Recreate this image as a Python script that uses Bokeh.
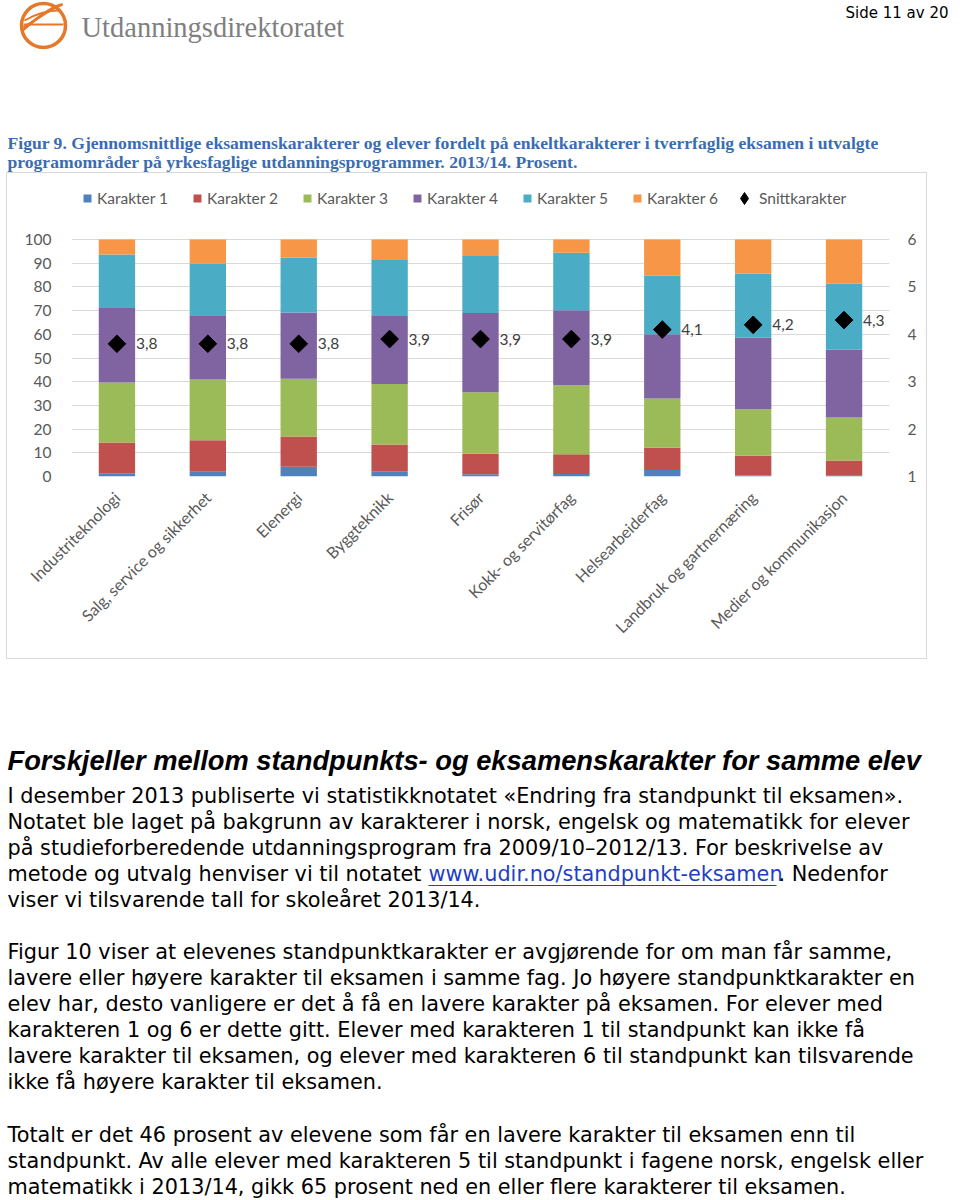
import math
from bokeh.plotting import figure
from bokeh.models import (Range1d, FactorRange, LinearAxis, Legend, LegendItem,
                          ColumnDataSource, Spacer)
from bokeh.layouts import column, row
from bokeh.core.properties import value
from bokeh.embed import file_html
from bokeh.resources import INLINE

# ---------------- data ----------------
categories = ["Industriteknologi", "Salg, service og sikkerhet", "Elenergi",
              "Byggteknikk", "Frisør", "Kokk- og servitørfag",
              "Helsearbeiderfag", "Landbruk og gartnernæring",
              "Medier og kommunikasjon"]
karakter1 = [1.4, 2.0, 4.1, 2.2, 1.0, 1.1, 2.7, 0.4, 0.3]
karakter2 = [12.9, 13.3, 12.8, 11.3, 8.6, 8.3, 9.4, 8.4, 6.4]
karakter3 = [25.4, 25.6, 24.3, 25.5, 25.9, 29.1, 20.8, 19.6, 18.2]
karakter4 = [31.4, 27.1, 28.0, 28.7, 33.5, 31.7, 27.1, 30.2, 28.6]
karakter5 = [22.6, 21.9, 23.1, 23.6, 24.4, 24.2, 24.7, 26.9, 27.8]
karakter6 = [6.3, 10.1, 7.7, 8.7, 6.6, 5.6, 15.3, 14.5, 18.7]
snitt = [3.8, 3.8, 3.8, 3.9, 3.9, 3.9, 4.1, 4.2, 4.3]
snitt_labels = ["3,8", "3,8", "3,8", "3,9", "3,9", "3,9", "4,1", "4,2", "4,3"]
series_names = ["Karakter 1", "Karakter 2", "Karakter 3", "Karakter 4",
                "Karakter 5", "Karakter 6"]
snitt_name = "Snittkarakter"
left_ticks = [0, 10, 20, 30, 40, 50, 60, 70, 80, 90, 100]
right_ticks = [1, 2, 3, 4, 5, 6]

colors = ["#4f81bd", "#c0504d", "#9bbb59", "#8064a2", "#4bacc6", "#f79646"]
GRAY = "#595959"
CHART_FONT = "Lato"

# ---------------- header ----------------
hdr = figure(width=960, height=172, x_range=Range1d(0, 960), y_range=Range1d(172, 0),
             output_backend="svg", toolbar_location=None, min_border=0,
             x_axis_location=None, y_axis_location=None, outline_line_color=None)
hdr.grid.visible = False
ORANGE = "#e4782b"
hdr.circle(x=[43], y=[25], radius=22, fill_color=None, line_color=ORANGE, line_width=3.5)
hdr.bezier(x0=[22, 23], y0=[30, 27], x1=[62, 62], y1=[4, 4],
           cx0=[40, 40], cy0=[14, 16], cx1=[55, 54], cy1=[5, 6],
           line_color=ORANGE, line_width=2.5)
hdr.segment(x0=[23], y0=[24], x1=[63], y1=[24], line_color=ORANGE, line_width=2)
hdr.bezier(x0=[24], y0=[20], x1=[58], y1=[10], cx0=[38], cy0=[12], cx1=[50], cy1=[10],
           line_color=ORANGE, line_width=2)
hdr.text(x=[81], y=[27], text=["Utdanningsdirektoratet"], text_font=value("Liberation Serif"),
         text_font_size="28.5px", text_color="#7f7f7f", text_baseline="middle")
hdr.text(x=[948], y=[12], text=["Side 11 av 20"], text_font=value("DejaVu Sans"),
         text_font_size="15px", text_color="#000000", text_align="right",
         text_baseline="middle")
CAP = "#3a6db0"
hdr.text(x=[7, 7], y=[142, 161],
         text=["Figur 9. Gjennomsnittlige eksamenskarakterer og elever fordelt på enkeltkarakterer i tverrfaglig eksamen i utvalgte",
               "programområder på yrkesfaglige utdanningsprogrammer. 2013/14. Prosent."],
         text_font=value("Liberation Serif"), text_font_size="17.6px",
         text_font_style="bold", text_color=CAP, text_baseline="middle")

# ---------------- chart ----------------
# frame spans 293 px; 100 % corresponds to 237 px -> extra room above for legend
Y_TOP = 100 * 293 / 237
src = ColumnDataSource(dict(cat=categories, k1=karakter1, k2=karakter2, k3=karakter3,
                            k4=karakter4, k5=karakter5, k6=karakter6,
                            snitt=snitt, lab=snitt_labels))
p = figure(width=921, height=487, x_range=FactorRange(factors=categories),
           y_range=Range1d(0, Y_TOP), output_backend="svg", toolbar_location=None,
           min_border_left=64, min_border_right=39, min_border_top=10,
           min_border_bottom=184, outline_line_color=None)
p.styles = {"border": "1px solid #d9d9d9"}
p.extra_y_ranges = {"g": Range1d(1, 1 + 5 * Y_TOP / 100)}

bars = p.vbar_stack(["k1", "k2", "k3", "k4", "k5", "k6"], x="cat", width=0.4,
                    color=colors, line_color=None, source=src)
dia = p.scatter(x="cat", y="snitt", y_range_name="g", marker="square", angle=math.pi / 4,
                size=12.5, fill_color="black", line_color="black", source=src)
# hidden twin, only used to draw a diamond in the legend
dia_leg = p.scatter(x="cat", y="snitt", y_range_name="g", marker="diamond", size=12,
                    fill_color="black", line_color="black", source=src, visible=False)
p.text(x="cat", y="snitt", text="lab", y_range_name="g", x_offset=19, source=src,
       text_font=value(CHART_FONT), text_font_size="15.5px", text_color="#404040",
       text_baseline="middle")

p.xgrid.visible = False
p.ygrid.ticker = left_ticks
p.ygrid.grid_line_color = "#d9d9d9"

for ax in (p.xaxis[0], p.yaxis[0]):
    ax.axis_line_color = None
    ax.major_tick_line_color = None
    ax.minor_tick_line_color = None
    ax.major_label_text_color = GRAY
    ax.major_label_text_font = CHART_FONT
    ax.major_label_text_font_size = "15.5px"
p.yaxis[0].ticker = left_ticks
p.yaxis[0].major_label_standoff = 14
p.xaxis[0].major_label_orientation = math.pi / 4
p.xaxis[0].major_label_standoff = 12
p.xaxis[0].major_label_text_font_size = "16px"

rax = LinearAxis(y_range_name="g", ticker=right_ticks, axis_line_color=None,
                 major_tick_line_color=None, minor_tick_line_color=None,
                 major_label_text_color=GRAY, major_label_text_font=CHART_FONT,
                 major_label_text_font_size="15.5px", major_label_standoff=12)
p.add_layout(rax, "right")

leg_style = dict(orientation="horizontal", border_line_color=None,
                 background_fill_alpha=0, label_text_font=CHART_FONT,
                 label_text_font_size="15.5px", label_text_color=GRAY,
                 padding=4, margin=0, click_policy="none")
items = [LegendItem(label=n, renderers=[r]) for n, r in zip(series_names, bars)]
leg = Legend(items=items, location=(11, 269), glyph_width=10, glyph_height=10,
             label_standoff=5, spacing=24, **leg_style)
p.add_layout(leg)
leg2 = Legend(items=[LegendItem(label=snitt_name, renderers=[dia_leg])], location=(658, 263),
              glyph_width=30, glyph_height=30, label_standoff=-4, **leg_style)
p.add_layout(leg2)

chart_row = row(Spacer(width=6, height=489), p)

# ---------------- body text ----------------
tx = figure(width=960, height=539, x_range=Range1d(0, 960), y_range=Range1d(1200, 661),
            output_backend="svg", toolbar_location=None, min_border=0,
            x_axis_location=None, y_axis_location=None, outline_line_color=None)
tx.grid.visible = False
tx.text(x=[7], y=[760], text=["Forskjeller mellom standpunkts- og eksamenskarakter for samme elev"],
        text_font=value("Liberation Sans"), text_font_size="27.3px",
        text_font_style="bold italic", text_color="#000000", text_baseline="middle")

BODY_FONT = value("DejaVu Sans")
BODY_SIZE = "20.8px"
lines = [
    (795, "I desember 2013 publiserte vi statistikknotatet «Endring fra standpunkt til eksamen»."),
    (821, "Notatet ble laget på bakgrunn av karakterer i norsk, engelsk og matematikk for elever"),
    (847, "på studieforberedende utdanningsprogram fra 2009/10–2012/13. For beskrivelse av"),
    (873, "metode og utvalg henviser vi til notatet"),
    (899, "viser vi tilsvarende tall for skoleåret 2013/14."),
    (951, "Figur 10 viser at elevenes standpunktkarakter er avgjørende for om man får samme,"),
    (977, "lavere eller høyere karakter til eksamen i samme fag. Jo høyere standpunktkarakter en"),
    (1003, "elev har, desto vanligere er det å få en lavere karakter på eksamen. For elever med"),
    (1029, "karakteren 1 og 6 er dette gitt. Elever med karakteren 1 til standpunkt kan ikke få"),
    (1055, "lavere karakter til eksamen, og elever med karakteren 6 til standpunkt kan tilsvarende"),
    (1081, "ikke få høyere karakter til eksamen."),
    (1134, "Totalt er det 46 prosent av elevene som får en lavere karakter til eksamen enn til"),
    (1160, "standpunkt. Av alle elever med karakteren 5 til standpunkt i fagene norsk, engelsk eller"),
    (1186, "matematikk i 2013/14, gikk 65 prosent ned en eller flere karakterer til eksamen."),
]
tx.text(x=[7] * len(lines), y=[l[0] for l in lines], text=[l[1] for l in lines],
        text_font=BODY_FONT, text_font_size=BODY_SIZE, text_color="#000000",
        text_baseline="middle")
LINK = "#1f3fc4"
tx.text(x=[428], y=[873], text=["www.udir.no/standpunkt-eksamen"], text_font=BODY_FONT,
        text_font_size=BODY_SIZE, text_color=LINK, text_baseline="middle")
tx.segment(x0=[428], y0=[885], x1=[776], y1=[885], line_color=LINK, line_width=1.2)
tx.text(x=[778], y=[873], text=[". Nedenfor"], text_font=BODY_FONT,
        text_font_size=BODY_SIZE, text_color="#000000", text_baseline="middle")

page = column(hdr, chart_row, tx)
open("out.html", "w").write(file_html(page, INLINE))
